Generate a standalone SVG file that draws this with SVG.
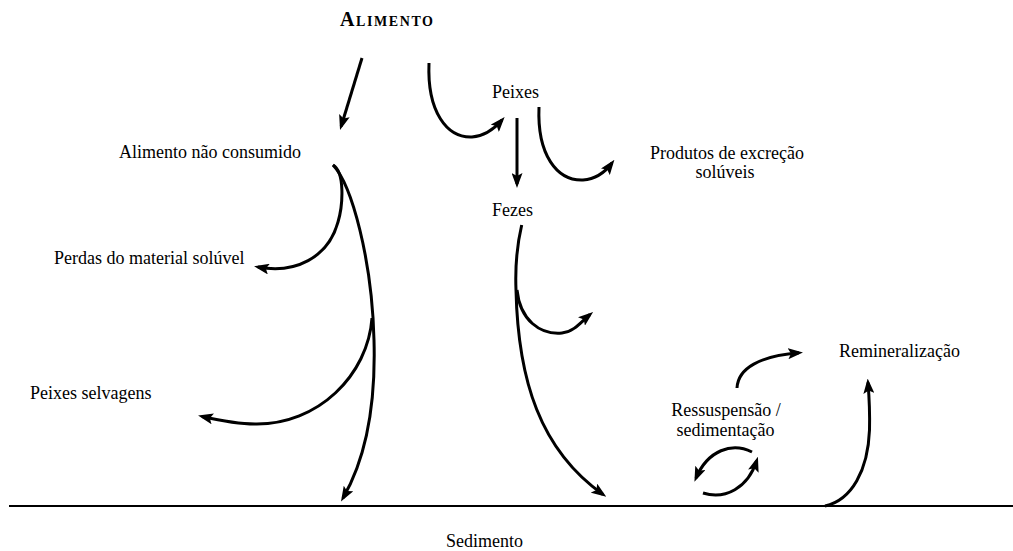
<svg xmlns="http://www.w3.org/2000/svg" width="1013" height="551" viewBox="0 0 1013 551">
  <style>
    text { font-family: "Liberation Serif", "Times New Roman", serif; font-size: 18px; fill: #000; }
    .title { font-weight: bold; }
    .arr { fill: none; stroke: #000; stroke-width: 3; marker-end: url(#ah); }
    .ground { stroke: #000; stroke-width: 2; }
  </style>
  <defs>
    <marker id="ah" markerUnits="userSpaceOnUse" markerWidth="15" markerHeight="11" viewBox="0 0 15 11" refX="11" refY="5.5" orient="auto">
      <path d="M0,0 L15,5.5 L0,11 L3,5.5 Z" fill="#000"/>
    </marker>
  </defs>
  <rect width="1013" height="551" fill="#fff"/>

  <g id="alimento">
    <text class="title" x="340" y="26" textLength="93" lengthAdjust="spacing"><tspan font-size="20">A</tspan><tspan font-size="14">LIMENTO</tspan></text>
  </g>
  <g id="peixes"><text x="492" y="98">Peixes</text></g>
  <g id="alimento-nao-consumido"><text x="119" y="158">Alimento não consumido</text></g>
  <g id="produtos"><text x="727" y="159" text-anchor="middle">Produtos de excreção</text><text x="725" y="178" text-anchor="middle">solúveis</text></g>
  <g id="fezes"><text x="492" y="216">Fezes</text></g>
  <g id="perdas"><text x="54" y="264">Perdas do material solúvel</text></g>
  <g id="peixes-selvagens"><text x="30" y="399">Peixes selvagens</text></g>
  <g id="remineralizacao"><text x="839" y="357">Remineralização</text></g>
  <g id="ressuspensao"><text x="726" y="416" text-anchor="middle">Ressuspensão /</text><text x="725.5" y="436" text-anchor="middle">sedimentação</text></g>
  <g id="sedimento">
    <line class="ground" x1="9" y1="506" x2="1013" y2="506"/>
    <text x="446" y="547">Sedimento</text>
  </g>

  <g id="connectors">
    <path class="arr" d="M362,58 L341.2,126.2"/>
    <path class="arr" d="M429,63 C427,112 447,138 472,137 C486,136 495,128 502,120"/>
    <path class="arr" d="M517,118 L517,184"/>
    <path class="arr" d="M539,107 C537,155 557,181 583,180 C597,179 606,171 612,163"/>
    <path class="arr" d="M333,165 C345,172 343,205 338,222 C328,258 295,274 258,267"/>
    <path class="arr" d="M333,165 C352,185 372,260 374,340 C376,410 365,460 343,498"/>
    <path class="arr" d="M372,318 C368,375 318,425 255,424 C238,424 222,421 202,416.5"/>
    <path class="arr" d="M521.7,225 C517,245 515,265 516,290 C518,380 540,450 603,494.5"/>
    <path class="arr" d="M517,290 C520,320 540,335 562,333 C574,332 582,321 590,314.5"/>
    <path class="arr" d="M825,506 C852,500 868,470 869.5,430 C870,410 869,395 868,382.5"/>
    <path class="arr" d="M737,388 C738,368 760,356 799,352.8"/>
    <path class="arr" d="M752,452 C732,442 708,450 696,478"/>
    <path class="arr" d="M703,493 C725,500 748,488 756.7,460.6"/>
  </g>
</svg>
